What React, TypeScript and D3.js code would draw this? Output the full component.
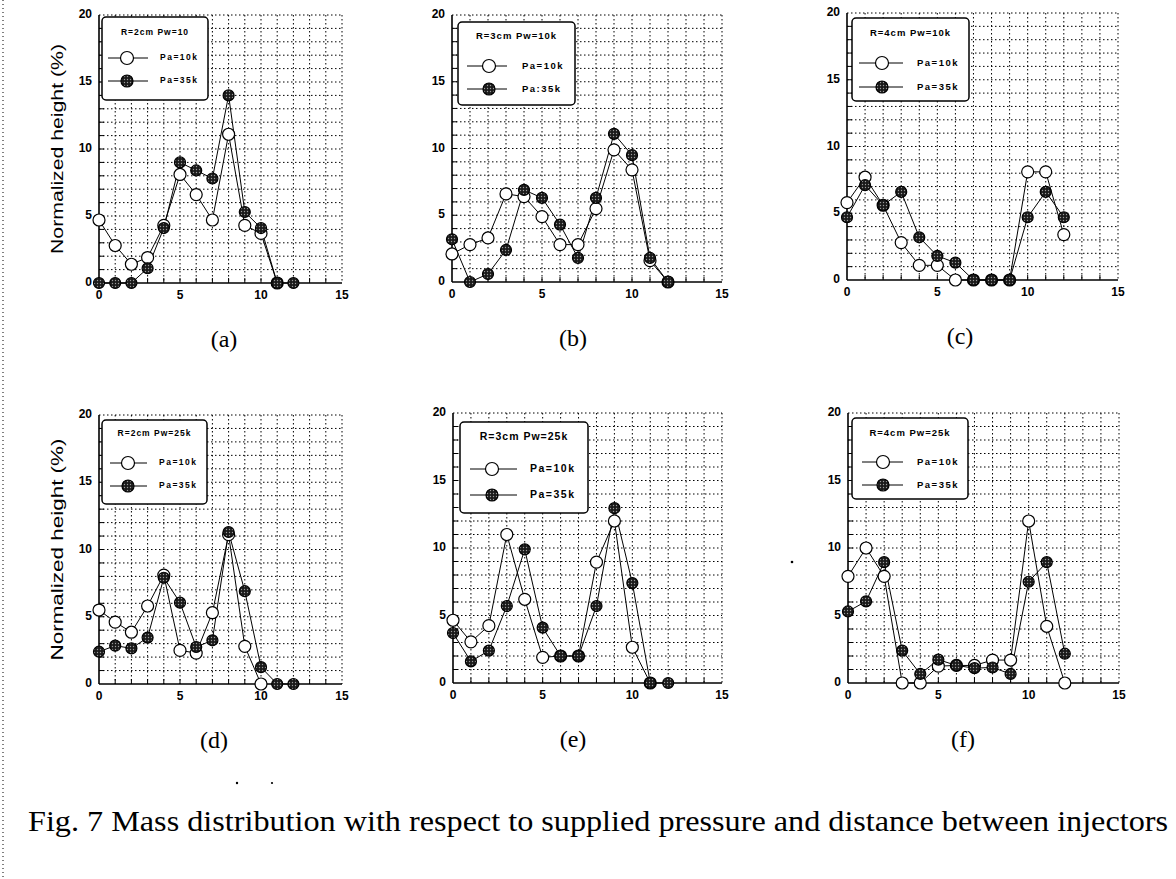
import React from 'react';
import * as d3 from 'd3';

// x positions (measurement index)
const xIndex = [0, 1, 2, 3, 4, 5, 6, 7, 8, 9, 10, 11, 12];
const xTicks = [0, 5, 10, 15];
const yTicks = [0, 5, 10, 15, 20];

// values, Pa=10k (open) and Pa=35k (filled)
const aOpen = [4.7, 2.8, 1.4, 1.9, 4.3, 8.1, 6.6, 4.7, 11.1, 4.3, 3.7, 0];
const aFilled = [0, 0, 0, 1.1, 4.1, 9.0, 8.4, 7.8, 14.0, 5.3, 4.1, 0, 0];
const bOpen = [2.1, 2.8, 3.3, 6.6, 6.4, 4.9, 2.8, 2.8, 5.5, 9.9, 8.4, 1.6, 0];
const bFilled = [3.2, 0, 0.6, 2.4, 6.9, 6.3, 4.3, 1.8, 6.3, 11.1, 9.5, 1.8, 0];
const cOpen = [5.8, 7.7, 5.6, 2.8, 1.1, 1.1, 0, 0, 0, 0, 8.1, 8.1, 3.4];
const cFilled = [4.7, 7.1, 5.6, 6.6, 3.2, 1.8, 1.3, 0, 0, 0, 4.7, 6.6, 4.7];
const dOpen = [5.5, 4.6, 3.85, 5.8, 8.1, 2.5, 2.3, 5.3, 11.1, 2.8, 0];
const dFilled = [2.4, 2.85, 2.65, 3.45, 7.9, 6.05, 2.75, 3.25, 11.3, 6.9, 1.25, 0, 0];
const eOpen = [4.65, 3.05, 4.25, 11.0, 6.2, 1.9, 2.0, 2.0, 8.95, 12.0, 2.65, 0];
const eFilled = [3.7, 1.6, 2.4, 5.7, 9.9, 4.1, 2.0, 2.0, 5.7, 12.95, 7.4, 0, 0];
const fOpen = [7.9, 10.0, 7.9, 0, 0, 1.25, 1.3, 1.3, 1.7, 1.7, 12.0, 4.2, 0];
const fFilled = [5.3, 6.05, 8.95, 2.4, 0.67, 1.73, 1.3, 1.1, 1.15, 0.67, 7.5, 8.95, 2.17];

const legendTitles = ['R=2cm Pw=10', 'R=3cm Pw=10k', 'R=4cm Pw=10k', 'R=2cm Pw=25k', 'R=3cm Pw=25k', 'R=4cm Pw=25k'];
const openLabels = ['Pa=10k', 'Pa=10k', 'Pa=10k', 'Pa=10k', 'Pa=10k', 'Pa=10k'];
const filledLabels = ['Pa=35k', 'Pa:35k', 'Pa=35k', 'Pa=35k', 'Pa=35k', 'Pa=35k'];
const subCaptions = ['(a)', '(b)', '(c)', '(d)', '(e)', '(f)'];
const yTitle = 'Normalized height (%)';
const caption = 'Fig. 7  Mass distribution with respect to supplied pressure and distance between injectors';

// panel layout (pixel frames + legend placement)
const panels = [
  { open: aOpen, filled: aFilled, l: 99, r: 342, t: 15, b: 283, cap: 224, yLab: true,
    lg: { x: 3, y: 2, w: 106, h: 83, ty: 18, r1: 43, r2: 66, l0: 9, l1: 49, cx: 28, tx: 61, fs: 8.5 } },
  { open: bOpen, filled: bFilled, l: 452, r: 722, t: 15, b: 282, cap: 573, yLab: false,
    lg: { x: 6, y: 7, w: 117, h: 83, ty: 21, r1: 51, r2: 74, l0: 15, l1: 55, cx: 37, tx: 70, fs: 9.5 } },
  { open: cOpen, filled: cFilled, l: 847, r: 1118, t: 13, b: 280, cap: 960, yLab: false,
    lg: { x: 5, y: 5, w: 117, h: 83, ty: 20, r1: 50, r2: 74, l0: 12, l1: 56, cx: 35, tx: 70, fs: 9.5 } },
  { open: dOpen, filled: dFilled, l: 99, r: 342, t: 415, b: 684, cap: 214, yLab: true,
    lg: { x: 3, y: 5, w: 105, h: 84, ty: 19, r1: 48, r2: 71, l0: 11, l1: 48, cx: 29, tx: 60, fs: 8.5 } },
  { open: eOpen, filled: eFilled, l: 453, r: 722, t: 413, b: 683, cap: 573, yLab: false,
    lg: { x: 7, y: 9, w: 128, h: 91, ty: 24, r1: 56, r2: 82, l0: 17, l1: 64, cx: 39, tx: 77, fs: 10.5 } },
  { open: fOpen, filled: fFilled, l: 848, r: 1119, t: 413, b: 683, cap: 963, yLab: false,
    lg: { x: 4, y: 5, w: 116, h: 81, ty: 20, r1: 49, r2: 72, l0: 14, l1: 55, cx: 35, tx: 69, fs: 9.5 } },
];

const sans = 'Liberation Sans, Arial, sans-serif';
const serif = 'Liberation Serif, Times New Roman, serif';
const grid = d3.range(1, 21);
const gridX = d3.range(1, 16);

function Panel({ p, i }: { p: any; i: number }) {
  const x = d3.scaleLinear().domain([0, 15]).range([p.l, p.r]);
  const y = d3.scaleLinear().domain([0, 20]).range([p.b, p.t]);
  const line = d3.line<number>().x((_, k) => x(xIndex[k])).y((d) => y(d));
  const lg = p.lg;
  const lx = p.l + lg.x;
  const ly = p.t + lg.y;
  return (
    <g>
      {grid.map((v) => (
        <line key={'gy' + v} x1={p.l} x2={p.r} y1={y(v)} y2={y(v)} stroke="#000" strokeWidth={1} strokeDasharray="1.5,2.5" />
      ))}
      {gridX.map((v) => (
        <line key={'gx' + v} x1={x(v)} x2={x(v)} y1={p.t} y2={p.b} stroke="#000" strokeWidth={1} strokeDasharray="1.5,2.5" />
      ))}
      {d3.range(1, 20).map((v) => (
        <line key={'ty' + v} x1={p.l} x2={p.l + 5} y1={y(v)} y2={y(v)} stroke="#000" strokeWidth={1} />
      ))}
      {d3.range(1, 15).map((v) => (
        <line key={'tx' + v} x1={x(v)} x2={x(v)} y1={p.b} y2={p.b - 5} stroke="#000" strokeWidth={1} />
      ))}
      <line x1={p.l} x2={p.l} y1={p.t} y2={p.b} stroke="#000" strokeWidth={1.6} />
      <line x1={p.l} x2={p.r} y1={p.b} y2={p.b} stroke="#000" strokeWidth={1.6} />
      {yTicks.map((v) => (
        <text key={'yl' + v} x={p.l - 7} y={y(v)} textAnchor="end" dominantBaseline="middle"
          fontFamily={sans} fontWeight="bold" fontSize={12}>{v}</text>
      ))}
      {xTicks.map((v) => (
        <text key={'xl' + v} x={x(v)} y={p.b + 13} textAnchor="middle" dominantBaseline="middle"
          fontFamily={sans} fontWeight="bold" fontSize={12}>{v}</text>
      ))}
      {p.yLab && (
        <text transform={`translate(59,${(p.t + p.b) / 2}) rotate(-90)`} textAnchor="middle"
          dominantBaseline="middle" fontFamily={sans} fontSize={17} textLength={i === 0 ? 210 : 222}
          lengthAdjust="spacingAndGlyphs">{yTitle}</text>
      )}
      <path d={line(p.open) || ''} fill="none" stroke="#000" strokeWidth={1} />
      <path d={line(p.filled) || ''} fill="none" stroke="#000" strokeWidth={1} />
      {p.open.map((v: number, k: number) => (
        <circle key={'o' + k} cx={x(xIndex[k])} cy={y(v)} r={6} fill="#fff" stroke="#000" strokeWidth={1.2} />
      ))}
      {p.filled.map((v: number, k: number) => (
        <circle key={'f' + k} cx={x(xIndex[k])} cy={y(v)} r={5.5} fill="url(#dots)" stroke="#000" strokeWidth={1.2} />
      ))}
      <rect x={lx} y={ly} width={lg.w} height={lg.h} rx={4} fill="#fff" stroke="#000" strokeWidth={1.5} />
      <text x={lx + lg.w / 2} y={p.t + lg.ty} textAnchor="middle" dominantBaseline="middle" fontFamily={sans}
        fontWeight="bold" fontSize={lg.fs} letterSpacing={1}>{legendTitles[i]}</text>
      <line x1={p.l + lg.l0} x2={p.l + lg.l1} y1={p.t + lg.r1} y2={p.t + lg.r1} stroke="#000" strokeWidth={1} />
      <circle cx={p.l + lg.cx} cy={p.t + lg.r1} r={6.5} fill="#fff" stroke="#000" strokeWidth={1.2} />
      <text x={p.l + lg.tx} y={p.t + lg.r1} dominantBaseline="middle" fontFamily={sans} fontWeight="bold"
        fontSize={lg.fs} letterSpacing={1.5}>{openLabels[i]}</text>
      <line x1={p.l + lg.l0} x2={p.l + lg.l1} y1={p.t + lg.r2} y2={p.t + lg.r2} stroke="#000" strokeWidth={1} />
      <circle cx={p.l + lg.cx} cy={p.t + lg.r2} r={6} fill="url(#dots)" stroke="#000" strokeWidth={1.2} />
      <text x={p.l + lg.tx} y={p.t + lg.r2} dominantBaseline="middle" fontFamily={sans} fontWeight="bold"
        fontSize={lg.fs} letterSpacing={1.5}>{filledLabels[i]}</text>
      <text x={p.cap} y={p.b + 64} textAnchor="middle" fontFamily={serif} fontSize={24}>{subCaptions[i]}</text>
    </g>
  );
}

export default function App() {
  return (
    <svg width={1176} height={879} style={{ position: 'absolute', left: 0, top: 0, background: '#fff' }}>
      <defs>
        <pattern id="dots" width={3} height={3} patternUnits="userSpaceOnUse">
          <rect width={3} height={3} fill="#1a1a1a" />
          <circle cx={1.5} cy={1.5} r={0.7} fill="#9a9a9a" />
        </pattern>
      </defs>
      <rect width={1176} height={879} fill="#fff" />
      <line x1={3} x2={3} y1={0} y2={879} stroke="#000" strokeWidth={1} strokeDasharray="1,3" />
      {panels.map((p, i) => (
        <Panel key={i} p={p} i={i} />
      ))}
      <circle cx={792} cy={562} r={1.3} fill="#000" />
      <circle cx={237} cy={783} r={1.2} fill="#000" />
      <circle cx={272} cy={783} r={1.1} fill="#000" />
      <text x={28} y={831} fontFamily={serif} fontSize={30} textLength={1140} lengthAdjust="spacingAndGlyphs">{caption}</text>
    </svg>
  );
}
